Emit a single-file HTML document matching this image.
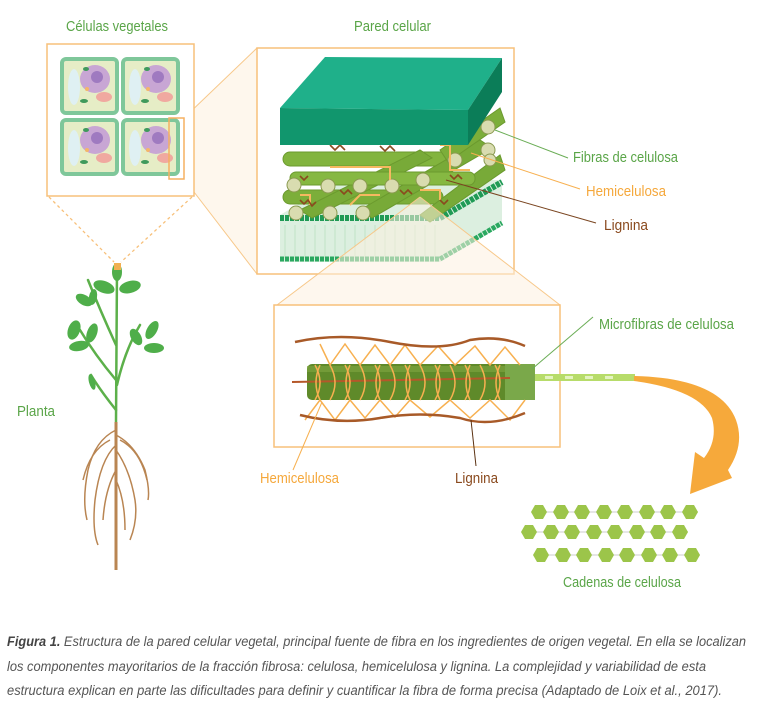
<!DOCTYPE html>
<html><head><meta charset="utf-8"><style>
html,body{margin:0;padding:0;background:#fff;}
svg{display:block;}
.lab{font-family:"Liberation Sans",sans-serif;font-size:15px;}
.cap{font-family:"Liberation Sans",sans-serif;font-size:13.5px;font-style:italic;fill:#555;}
</style></head><body>
<svg width="768" height="716" viewBox="0 0 768 716" xmlns="http://www.w3.org/2000/svg">
<defs>
<polygon id="hx" points="-8,0 -4,-7 4,-7 8,0 4,7 -4,7" fill="#9cc54a"/>
<g id="cell">
<rect x="0" y="0" width="55" height="54" rx="4" fill="#e6edc6" stroke="#7fc79a" stroke-width="4"/>
<ellipse cx="12" cy="28" rx="6" ry="18" fill="#dff0f3"/>
<ellipse cx="33" cy="20" rx="15" ry="14" fill="#c8a6d4"/>
<circle cx="35" cy="18" r="6" fill="#9f7ac0"/>
<ellipse cx="42" cy="38" rx="8" ry="5" fill="#f0a9a0"/>
<ellipse cx="22" cy="42" rx="4" ry="2" fill="#3f9a5c"/>
<ellipse cx="24" cy="10" rx="3" ry="2" fill="#3f9a5c"/>
<circle cx="25" cy="30" r="2" fill="#f4b66a"/>
</g>
</defs>

<!-- titles -->
<text class="lab" x="66" y="31" fill="#5aa548" textLength="102" lengthAdjust="spacingAndGlyphs">Células vegetales</text>
<text class="lab" x="354" y="31" fill="#5aa548" textLength="77" lengthAdjust="spacingAndGlyphs">Pared celular</text>

<!-- cells box -->
<polygon points="184,118 257,48 257,274 184,179" fill="#fdf3e6" opacity="0.7"/>
<line x1="184" y1="118" x2="257" y2="48" stroke="#f7c88a" stroke-width="1"/>
<line x1="184" y1="179" x2="257" y2="274" stroke="#f7c88a" stroke-width="1"/>
<rect x="47" y="44" width="147" height="152" fill="#fff" stroke="#f7c07a" stroke-width="1.5"/>
<use href="#cell" x="62" y="59"/>
<use href="#cell" x="123" y="59"/>
<use href="#cell" x="62" y="120"/>
<use href="#cell" x="123" y="120"/>
<rect x="169" y="118" width="15" height="61" fill="none" stroke="#f5b060" stroke-width="1.5"/>
<line x1="49" y1="197" x2="114" y2="262" stroke="#f7c07a" stroke-width="1.3" stroke-dasharray="3,3"/>
<line x1="192" y1="197" x2="121" y2="262" stroke="#f7c07a" stroke-width="1.3" stroke-dasharray="3,3"/>

<!-- plant -->
<g stroke="#5cb04a" stroke-width="2.5" fill="none" stroke-linecap="round">
<path d="M117,268 L116,422"/>
<path d="M116,345 Q100,310 88,280"/>
<path d="M116,380 Q95,355 80,330"/>
<path d="M117,385 Q125,350 140,325"/>
<path d="M116,410 Q100,390 91,375"/>
</g>
<g fill="#4fae4a">
<ellipse cx="117" cy="272" rx="5" ry="9"/>
<ellipse cx="104" cy="287" rx="11" ry="6" transform="rotate(20 104 287)"/>
<ellipse cx="130" cy="287" rx="11" ry="6" transform="rotate(-15 130 287)"/>
<ellipse cx="84" cy="300" rx="9" ry="5" transform="rotate(30 84 300)"/>
<ellipse cx="93" cy="297" rx="4" ry="8" transform="rotate(10 93 297)"/>
<ellipse cx="74" cy="330" rx="6" ry="10" transform="rotate(20 74 330)"/>
<ellipse cx="79" cy="346" rx="10" ry="5" transform="rotate(-10 79 346)"/>
<ellipse cx="92" cy="333" rx="5" ry="10" transform="rotate(20 92 333)"/>
<ellipse cx="136" cy="337" rx="5" ry="9" transform="rotate(-30 136 337)"/>
<ellipse cx="152" cy="330" rx="5" ry="10" transform="rotate(30 152 330)"/>
<ellipse cx="154" cy="348" rx="10" ry="5"/>
<ellipse cx="92" cy="382" rx="3" ry="8" transform="rotate(-15 92 382)"/>
</g>
<rect x="114" y="263" width="7" height="7" fill="#f0b050"/>
<g stroke="#b98552" stroke-width="1.5" fill="none">
<path d="M116,422 L116,570" stroke-width="3"/>
<path d="M116,430 Q95,440 88,470 Q82,500 87,520"/>
<path d="M116,435 Q135,445 145,470 Q150,490 148,500"/>
<path d="M116,445 Q100,460 95,500 Q92,530 98,545"/>
<path d="M116,450 Q130,470 135,500 Q138,520 130,540"/>
<path d="M116,470 Q105,490 103,520"/>
<path d="M116,480 Q125,500 125,530"/>
<path d="M110,440 Q90,450 83,480"/>
<path d="M120,440 Q140,450 147,480"/>
</g>
<text class="lab" x="17" y="416" fill="#5aa548" textLength="38" lengthAdjust="spacingAndGlyphs">Planta</text>

<!-- pared celular box -->
<rect x="257" y="48" width="257" height="226" fill="#fff" stroke="#f7c07a" stroke-width="1.5"/>
<!-- membrane -->
<polygon points="280,215 340,180 502,180 502,225 440,262 280,262" fill="#dcefe0"/>
<g stroke="#bfe3c6" stroke-width="1">
<line x1="285" y1="225" x2="285" y2="258"/><line x1="295" y1="225" x2="295" y2="258"/><line x1="305" y1="225" x2="305" y2="258"/><line x1="315" y1="225" x2="315" y2="258"/><line x1="325" y1="225" x2="325" y2="258"/><line x1="335" y1="225" x2="335" y2="258"/><line x1="345" y1="225" x2="345" y2="258"/><line x1="355" y1="225" x2="355" y2="258"/><line x1="365" y1="225" x2="365" y2="258"/><line x1="375" y1="225" x2="375" y2="258"/><line x1="385" y1="225" x2="385" y2="258"/><line x1="395" y1="225" x2="395" y2="258"/><line x1="405" y1="225" x2="405" y2="258"/><line x1="415" y1="225" x2="415" y2="258"/><line x1="425" y1="225" x2="425" y2="258"/><line x1="435" y1="225" x2="435" y2="258"/>
</g>
<path d="M280,218 L440,218 L502,182" stroke="#1f9a55" stroke-width="6" fill="none" stroke-dasharray="4,1"/>
<path d="M280,259 L440,259 L502,223" stroke="#2aa860" stroke-width="5" fill="none" stroke-dasharray="4,1"/>
<!-- fibers -->
<g stroke="#6b9a2e" stroke-width="1">
<rect x="283" y="190" width="160" height="14" rx="7" fill="#7cae3a"/>
<rect x="283" y="152" width="170" height="14" rx="7" fill="#82b43e"/>
<polygon points="300,210 420,150 432,158 312,218" fill="#78aa38"/>
<polygon points="360,210 480,140 492,148 372,218" fill="#78aa38"/>
<polygon points="420,215 500,155 505,170 430,222" fill="#78aa38"/>
<polygon points="440,150 500,108 505,122 448,162" fill="#7cae3a"/>
<rect x="290" y="172" width="185" height="13" rx="6" fill="#86b842"/>
</g>
<g fill="#d9dcb0" stroke="#8a9a50" stroke-width="1">
<circle cx="296" cy="213" r="7"/><circle cx="330" cy="213" r="7"/><circle cx="363" cy="213" r="7"/><circle cx="294" cy="185" r="7"/><circle cx="328" cy="186" r="7"/><circle cx="360" cy="186" r="7"/><circle cx="392" cy="186" r="7"/><circle cx="423" cy="180" r="7"/><circle cx="455" cy="160" r="7"/><circle cx="488" cy="127" r="7"/><circle cx="488" cy="150" r="7"/><circle cx="490" cy="160" r="6"/>
</g>
<g stroke="#f6b860" stroke-width="2" fill="none">
<path d="M330,167 L390,167 L390,180"/><path d="M440,145 L450,145 L450,170 L470,170"/><path d="M300,195 L310,195 L310,205"/><path d="M350,205 L360,195 L380,195"/><path d="M420,190 L440,190 L440,200"/>
</g>
<g stroke="#8a4a1e" stroke-width="1.6" fill="none">
<path d="M330,145 l5,5 l5,-5 l5,5"/><path d="M380,146 l5,5 l5,-5 l5,5"/><path d="M300,200 l4,4 l4,-4 l4,6 l4,-4"/><path d="M340,190 l4,4 l4,-4 l4,4"/><path d="M400,190 l4,4 l4,-4 l4,4"/><path d="M450,175 l4,4 l4,-4 l4,4"/><path d="M470,118 l4,4 l4,-4 l4,4"/><path d="M440,200 l4,4 l4,-4"/><path d="M300,176 l4,4 l4,-4"/>
</g>
<!-- slab -->
<polygon points="280,108 325,57 502,58 468,110" fill="#1fb08a"/>
<polygon points="280,108 468,110 468,145 280,145" fill="#11966d"/>
<polygon points="468,110 502,58 502,92 468,145" fill="#0b7d58"/>
<!-- lens triangle -->
<polygon points="420,197 277,305 560,305" fill="#fdf1e0" opacity="0.55"/>
<line x1="420" y1="197" x2="277" y2="305" stroke="#f7c88a" stroke-width="1"/>
<line x1="420" y1="197" x2="560" y2="305" stroke="#f7c88a" stroke-width="1"/>
<!-- leaders -->
<line x1="495" y1="130" x2="568" y2="158" stroke="#6aad55" stroke-width="1"/>
<line x1="471" y1="153" x2="580" y2="189" stroke="#f7b050" stroke-width="1"/>
<line x1="446" y1="180" x2="596" y2="223" stroke="#7a4520" stroke-width="1"/>
<text class="lab" x="573" y="162" fill="#5aa548" textLength="105" lengthAdjust="spacingAndGlyphs">Fibras de celulosa</text>
<text class="lab" x="586" y="196" fill="#f5a83c" textLength="80" lengthAdjust="spacingAndGlyphs">Hemicelulosa</text>
<text class="lab" x="604" y="230" fill="#8a4a1e" textLength="44" lengthAdjust="spacingAndGlyphs">Lignina</text>

<!-- bottom box -->
<rect x="274" y="305" width="286" height="142" fill="#fff" stroke="#f7c07a" stroke-width="1.5"/>
<rect x="307" y="364" width="228" height="36" rx="5" fill="#5f8a2a"/>
<rect x="307" y="366" width="228" height="6" fill="#7ca23e" opacity="0.7"/>
<rect x="505" y="364" width="30" height="36" fill="#7aa84a"/>
<line x1="292" y1="382" x2="510" y2="378" stroke="#b5582a" stroke-width="2"/>
<g stroke="#f7b050" stroke-width="1.5" fill="none">
<path d="M320,344 L330,365 L345,344 L360,365 L375,345 L390,365 L405,345 L420,365 L438,346 L455,365 L475,346 L490,365 L505,347 L520,365"/>
<path d="M305,420 L320,400 L335,420 L350,400 L365,418 L380,400 L395,417 L410,400 L430,417 L450,400 L470,418 L490,400 L510,420 L525,400"/>
<path d="M315,365 q10,18 0,35 M330,365 q10,18 0,35 M345,365 q10,18 0,35 M360,365 q10,18 0,35 M375,365 q10,18 0,35 M390,365 q10,18 0,35 M405,365 q10,18 0,35 M420,365 q10,18 0,35 M435,365 q10,18 0,35 M450,365 q10,18 0,35 M465,365 q10,18 0,35 M480,365 q10,18 0,35 M495,365 q10,18 0,35"/>
<path d="M320,365 q-8,18 0,35 M350,365 q-8,18 0,35 M380,365 q-8,18 0,35 M410,365 q-8,18 0,35 M440,365 q-8,18 0,35 M470,365 q-8,18 0,35 M500,365 q-8,18 0,35"/>
</g>
<g stroke="#a85a28" stroke-width="2.5" fill="none">
<path d="M295,342 Q340,332 390,342 T470,340 Q500,335 525,346"/>
<path d="M300,415 Q340,425 380,418 T460,418 Q490,428 525,413"/>
</g>
<!-- strand -->
<rect x="535" y="374" width="100" height="7" fill="#b7dc6a"/>
<g fill="#e4f3c0"><rect x="545" y="376" width="8" height="3"/><rect x="565" y="376" width="8" height="3"/><rect x="585" y="376" width="8" height="3"/><rect x="605" y="376" width="8" height="3"/></g>
<!-- arrow -->
<path d="M634,376 Q720,378 736,420 Q745,445 728,470 L732,478 L690,494 L695,452 L704,458 Q718,440 712,418 Q700,390 634,381 Z" fill="#f6a93b"/>
<line x1="532" y1="369" x2="593" y2="317" stroke="#6aad55" stroke-width="1"/>
<line x1="322" y1="402" x2="293" y2="470" stroke="#f7b050" stroke-width="1"/>
<line x1="471" y1="420" x2="476" y2="466" stroke="#5a3010" stroke-width="1"/>
<text class="lab" x="599" y="329" fill="#5aa548" textLength="135" lengthAdjust="spacingAndGlyphs">Microfibras de celulosa</text>
<text class="lab" x="260" y="483" fill="#f5a83c" textLength="79" lengthAdjust="spacingAndGlyphs">Hemicelulosa</text>
<text class="lab" x="455" y="483" fill="#8a4a1e" textLength="43" lengthAdjust="spacingAndGlyphs">Lignina</text>

<!-- hex chains -->
<g stroke="#bbb" stroke-width="0.8">
<line x1="539" y1="512" x2="698" y2="512"/><line x1="529" y1="532" x2="688" y2="532"/><line x1="541" y1="555" x2="700" y2="555"/>
</g>
<use href="#hx" x="539" y="512"/><use href="#hx" x="561" y="512"/><use href="#hx" x="582" y="512"/><use href="#hx" x="604" y="512"/><use href="#hx" x="625" y="512"/><use href="#hx" x="647" y="512"/><use href="#hx" x="668" y="512"/><use href="#hx" x="690" y="512"/>
<use href="#hx" x="529" y="532"/><use href="#hx" x="551" y="532"/><use href="#hx" x="572" y="532"/><use href="#hx" x="594" y="532"/><use href="#hx" x="615" y="532"/><use href="#hx" x="637" y="532"/><use href="#hx" x="658" y="532"/><use href="#hx" x="680" y="532"/>
<use href="#hx" x="541" y="555"/><use href="#hx" x="563" y="555"/><use href="#hx" x="584" y="555"/><use href="#hx" x="606" y="555"/><use href="#hx" x="627" y="555"/><use href="#hx" x="649" y="555"/><use href="#hx" x="670" y="555"/><use href="#hx" x="692" y="555"/>
<text class="lab" x="563" y="587" fill="#5aa548" textLength="118" lengthAdjust="spacingAndGlyphs">Cadenas de celulosa</text>

<!-- caption -->
<text class="cap" x="7" y="646" textLength="739" lengthAdjust="spacingAndGlyphs"><tspan font-weight="bold" fill="#444">Figura 1.</tspan> Estructura de la pared celular vegetal, principal fuente de fibra en los ingredientes de origen vegetal. En ella se localizan</text>
<text class="cap" x="7" y="671" textLength="699" lengthAdjust="spacingAndGlyphs">los componentes mayoritarios de la fracción fibrosa: celulosa, hemicelulosa y lignina. La complejidad y variabilidad de esta</text>
<text class="cap" x="7" y="695" textLength="715" lengthAdjust="spacingAndGlyphs">estructura explican en parte las dificultades para definir y cuantificar la fibra de forma precisa (Adaptado de Loix et al., 2017).</text>
</svg>
</body></html>
